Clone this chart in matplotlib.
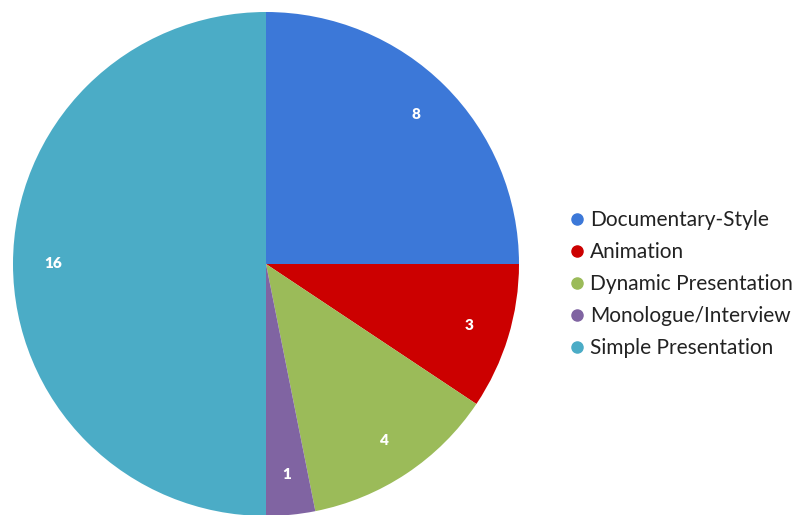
import matplotlib
matplotlib.use('Agg')
import matplotlib.pyplot as plt
from matplotlib.lines import Line2D

categories = ['Documentary-Style', 'Animation', 'Dynamic Presentation',
              'Monologue/Interview', 'Simple Presentation']
counts = [8, 3, 4, 1, 16]
colors = ['#3C78D8', '#CC0000', '#9BBB59', '#8064A2', '#4BACC6']

plt.rcParams['font.family'] = ['Lato', 'DejaVu Sans']

W, H = 795, 515
fig = plt.figure(figsize=(W / 100, H / 100), dpi=100)
# pie area in pixel units: left 13, right 519, top 12, bottom 516
ax = fig.add_axes([13 / W, (H - 516) / H, 506 / W, 504 / H])
wedges, texts, autotexts = ax.pie(
    counts, colors=colors, startangle=90, counterclock=False,
    autopct=lambda p: '%d' % round(p * sum(counts) / 100),
    pctdistance=0.84, wedgeprops=dict(linewidth=0),
    textprops=dict(color='white', fontsize=11, fontweight='heavy'))
ax.set_aspect('auto')
ax.set_xlim(-1, 1)
ax.set_ylim(-1, 1)

handles = [Line2D([], [], marker='o', ls='', color=c, markersize=8) for c in colors]
fig.legend(handles, categories, loc='center left',
           bbox_to_anchor=(548 / W, 1 - 284 / H), frameon=False,
           fontsize=15, handletextpad=0.12, labelspacing=0.58,
           handlelength=1.0, labelcolor='#222222')

fig.savefig('out.png', dpi=100)
